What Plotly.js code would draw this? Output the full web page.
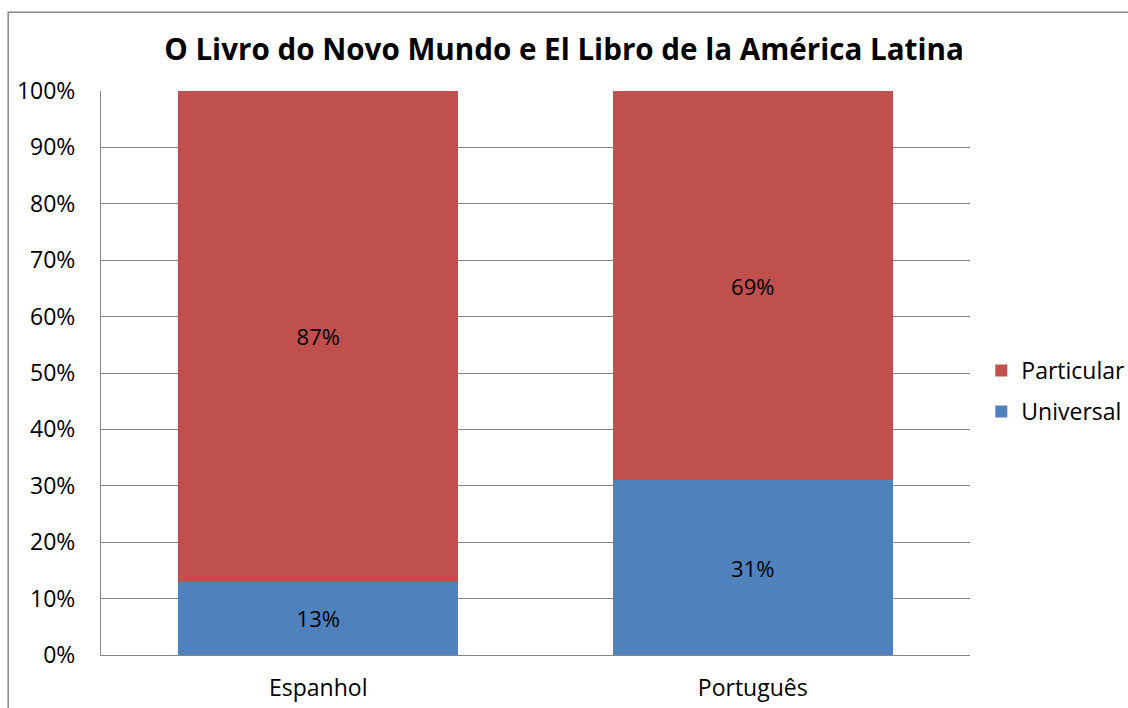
<!DOCTYPE html>
<html>
<head>
<meta charset="utf-8">
<script src="https://cdn.plot.ly/plotly-3.0.1.min.js"></script>
<style>html,body{margin:0;padding:0;background:#fff;}#chart{width:1128px;height:708px;}</style>
</head>
<body>
<div id="chart"></div>
<script>
const categories = ["Espanhol", "Português"];
const universal = [13, 31];
const particular = [87, 69];
const tickVals = [0, 10, 20, 30, 40, 50, 60, 70, 80, 90, 100];
const tickText = ["0%", "10%", "20%", "30%", "40%", "50%", "60%", "70%", "80%", "90%", "100%"];

const font = "Open Sans, Noto Sans, sans-serif";
const traces = [
  {type: "bar", name: "Universal", legendgroup: "u", legendrank: 2, x: categories, y: universal,
   marker: {color: "#4F81BD"}, text: universal.map(v => v + "%"),
   textposition: "inside", insidetextanchor: "middle", textfont: {color: "#000", size: 22, family: font},
   hoverinfo: "none"},
  {type: "bar", name: "Particular", legendgroup: "p", legendrank: 1, x: categories, y: particular,
   marker: {color: "#C0504D"}, text: particular.map(v => v + "%"),
   textposition: "inside", insidetextanchor: "middle", textfont: {color: "#000", size: 22, family: font},
   hoverinfo: "none"}
];
const layout = {
  width: 1128, height: 708,
  margin: {l: 101, r: 158, t: 91, b: 53, autoexpand: false},
  paper_bgcolor: "#fff", plot_bgcolor: "#fff",
  barmode: "stack", bargap: 0.356,
  font: {family: font, size: 22, color: "#000"},
  title: {text: "<b>O Livro do Novo Mundo e El Libro de la América Latina</b>", x: 0.5, xanchor: "center", y: 0.93, yanchor: "middle", font: {size: 29.6, family: font, color: "#000"}},
  xaxis: {showgrid: false, showline: true, linecolor: "#868686", linewidth: 1, ticks: "outside", ticklen: 12, tickcolor: "rgba(0,0,0,0)", tickfont: {size: 23}, fixedrange: true},
  yaxis: {range: [0, 100], tickvals: tickVals, ticktext: tickText, showgrid: true, gridcolor: "#868686", gridwidth: 1,
          showline: true, linecolor: "#868686", linewidth: 1, zeroline: false, ticks: "outside", ticklen: 20, tickcolor: "rgba(0,0,0,0)", tickfont: {size: 23}, fixedrange: true},
  legend: {x: 1.013, y: 0.468, xanchor: "left", yanchor: "middle", traceorder: "grouped", tracegroupgap: 8, font: {size: 23}},
  showlegend: true,
  shapes: [
    {type: "rect", xref: "paper", yref: "paper", x0: -0.1068, x1: 1.2, y0: -0.12, y1: 1.1395,
     line: {color: "#868686", width: 1.5}, fillcolor: "rgba(0,0,0,0)", layer: "below"}
  ]
};
Plotly.newPlot("chart", traces, layout, {displayModeBar: false, staticPlot: true});
</script>
</body>
</html>
